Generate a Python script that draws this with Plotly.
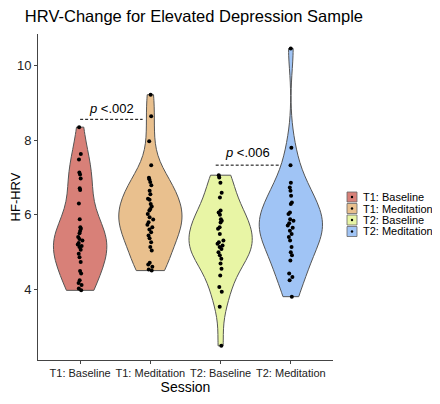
import plotly.graph_objects as go

categories = ["T1: Baseline", "T1: Meditation", "T2: Baseline", "T2: Meditation"]

t1_baseline = [8.35, 7.63, 7.48, 7.13, 7.08, 6.97, 6.71, 6.66, 6.30, 5.88, 5.66, 5.62,
               5.56, 5.50, 5.40, 5.35, 5.31, 5.24, 5.20, 5.16, 5.13, 5.06, 4.95, 4.86,
               4.73, 4.49, 4.42, 4.24, 4.17, 4.11, 4.02, 3.97]
t1_meditation = [9.22, 8.64, 7.97, 7.33, 6.99, 6.95, 6.88, 6.79, 6.64, 6.55, 6.43, 6.40,
                 6.29, 6.22, 6.15, 6.11, 6.02, 5.93, 5.87, 5.80, 5.73, 5.66, 5.60, 5.53,
                 5.44, 5.37, 5.26, 5.13, 5.04, 4.71, 4.66, 4.60, 4.53, 4.50]
t2_baseline = [7.06, 7.00, 6.86, 6.59, 6.46, 6.11, 6.06, 6.00, 5.88, 5.84, 5.79, 5.66,
               5.62, 5.48, 5.31, 5.26, 5.22, 5.17, 5.13, 5.08, 4.99, 4.91, 4.82, 4.69,
               4.55, 4.37, 4.06, 3.93, 3.53, 2.48]
t2_meditation = [10.46, 7.80, 7.33, 6.86, 6.73, 6.64, 6.51, 6.33, 6.29, 6.06, 6.02, 5.88,
                 5.84, 5.77, 5.71, 5.65, 5.57, 5.48, 5.40, 5.31, 5.13, 4.99, 4.91, 4.77,
                 4.42, 4.33, 4.24, 3.80]

series = [t1_baseline, t1_meditation, t2_baseline, t2_meditation]
colors = ["rgb(216,128,120)", "rgb(233,192,142)", "rgb(232,245,165)", "rgb(160,196,245)"]
widths = [0.76, 0.9, 0.9, 0.9]

y_ticks = [4, 6, 8, 10]
p_labels = ["<i>p</i> <.002", "<i>p</i> <.006"]

W, H = 432, 396
ML, MR, MT, MB = 30, 107, 26, 44
PW, PH = W - ML - MR, H - MT - MB


def px_x(p):
    return (p - ML) / PW


def px_y(p):
    return (H - MB - p) / PH


fig = go.Figure()
for cat, vals, col, w in zip(categories, series, colors, widths):
    fig.add_trace(go.Violin(
        x=[cat] * len(vals), y=vals, name=cat,
        fillcolor=col, opacity=1,
        line=dict(color="#555555", width=1),
        spanmode="hard", scalemode="width", width=w,
        points="all", pointpos=0, jitter=0.1,
        marker=dict(color="black", size=4),
        box_visible=False, meanline_visible=False,
        hoveron="points", showlegend=False,
    ))

# significance brackets
fig.add_shape(type="line", xref="x", yref="y", x0=0, x1=0.89, y0=8.56, y1=8.56,
              line=dict(color="black", width=1, dash="3px,2px"))
fig.add_shape(type="line", xref="x", yref="y", x0=1.93, x1=2.83, y0=7.33, y1=7.33,
              line=dict(color="black", width=1, dash="3px,2px"))
fig.add_annotation(x=0.45, y=8.85, xref="x", yref="y", text=p_labels[0], showarrow=False,
                   font=dict(size=13, color="black", family="Liberation Sans, Arial"))
fig.add_annotation(x=2.38, y=7.66, xref="x", yref="y", text=p_labels[1], showarrow=False,
                   font=dict(size=13, color="black", family="Liberation Sans, Arial"))

# legend (drawn as keys + text)
key_left, key_size, key_step, key_top = 339, 10, 11.5, 189
for i, (cat, col) in enumerate(zip(categories, colors)):
    cy = key_top + i * key_step
    fig.add_shape(type="rect", xref="paper", yref="paper",
                  x0=px_x(key_left), x1=px_x(key_left + key_size),
                  y0=px_y(cy - key_size / 2), y1=px_y(cy + key_size / 2),
                  fillcolor=col, line=dict(color="#666666", width=0.8))
    fig.add_shape(type="circle", xref="paper", yref="paper",
                  x0=px_x(key_left + key_size / 2 - 1.2), x1=px_x(key_left + key_size / 2 + 1.2),
                  y0=px_y(cy - 1.2), y1=px_y(cy + 1.2),
                  fillcolor="black", line=dict(color="black", width=0))
    fig.add_annotation(x=px_x(key_left + key_size + 4), y=px_y(cy), xref="paper", yref="paper",
                       xanchor="left", yanchor="middle", text=cat, showarrow=False,
                       font=dict(size=11, color="black"))

fig.update_layout(
    width=W, height=H,
    paper_bgcolor="white", plot_bgcolor="white",
    margin=dict(l=ML, r=MR, t=MT, b=MB, autoexpand=False),
    font=dict(family="Liberation Sans, Arial", color="black", size=12),
    title=dict(text="HRV-Change for Elevated Depression Sample", x=0.039, xanchor="left",
               y=0.98, yanchor="middle", font=dict(size=16.5, color="black")),
    showlegend=False,
    violingap=0, violinmode="overlay",
)
fig.update_xaxes(
    type="category", categoryorder="array", categoryarray=categories,
    range=[-0.6, 3.6], showgrid=False, zeroline=False, automargin=False,
    showline=True, linecolor="#444444", linewidth=1, tickangle=0,
    ticks="outside", ticklen=3, tickcolor="#444444",
    tickfont=dict(size=11, color="#222222"),
    title=dict(text="Session", font=dict(size=14), standoff=2),
)
fig.update_yaxes(
    range=[2.1, 10.85], tickvals=y_ticks, showgrid=False, zeroline=False, automargin=False,
    showline=True, linecolor="#444444", linewidth=1,
    ticks="outside", ticklen=3, tickcolor="#444444",
    tickfont=dict(size=13, color="#222222"),
    title=dict(text="HF-HRV", font=dict(size=13), standoff=6),
)

fig.write_html("out.html")
